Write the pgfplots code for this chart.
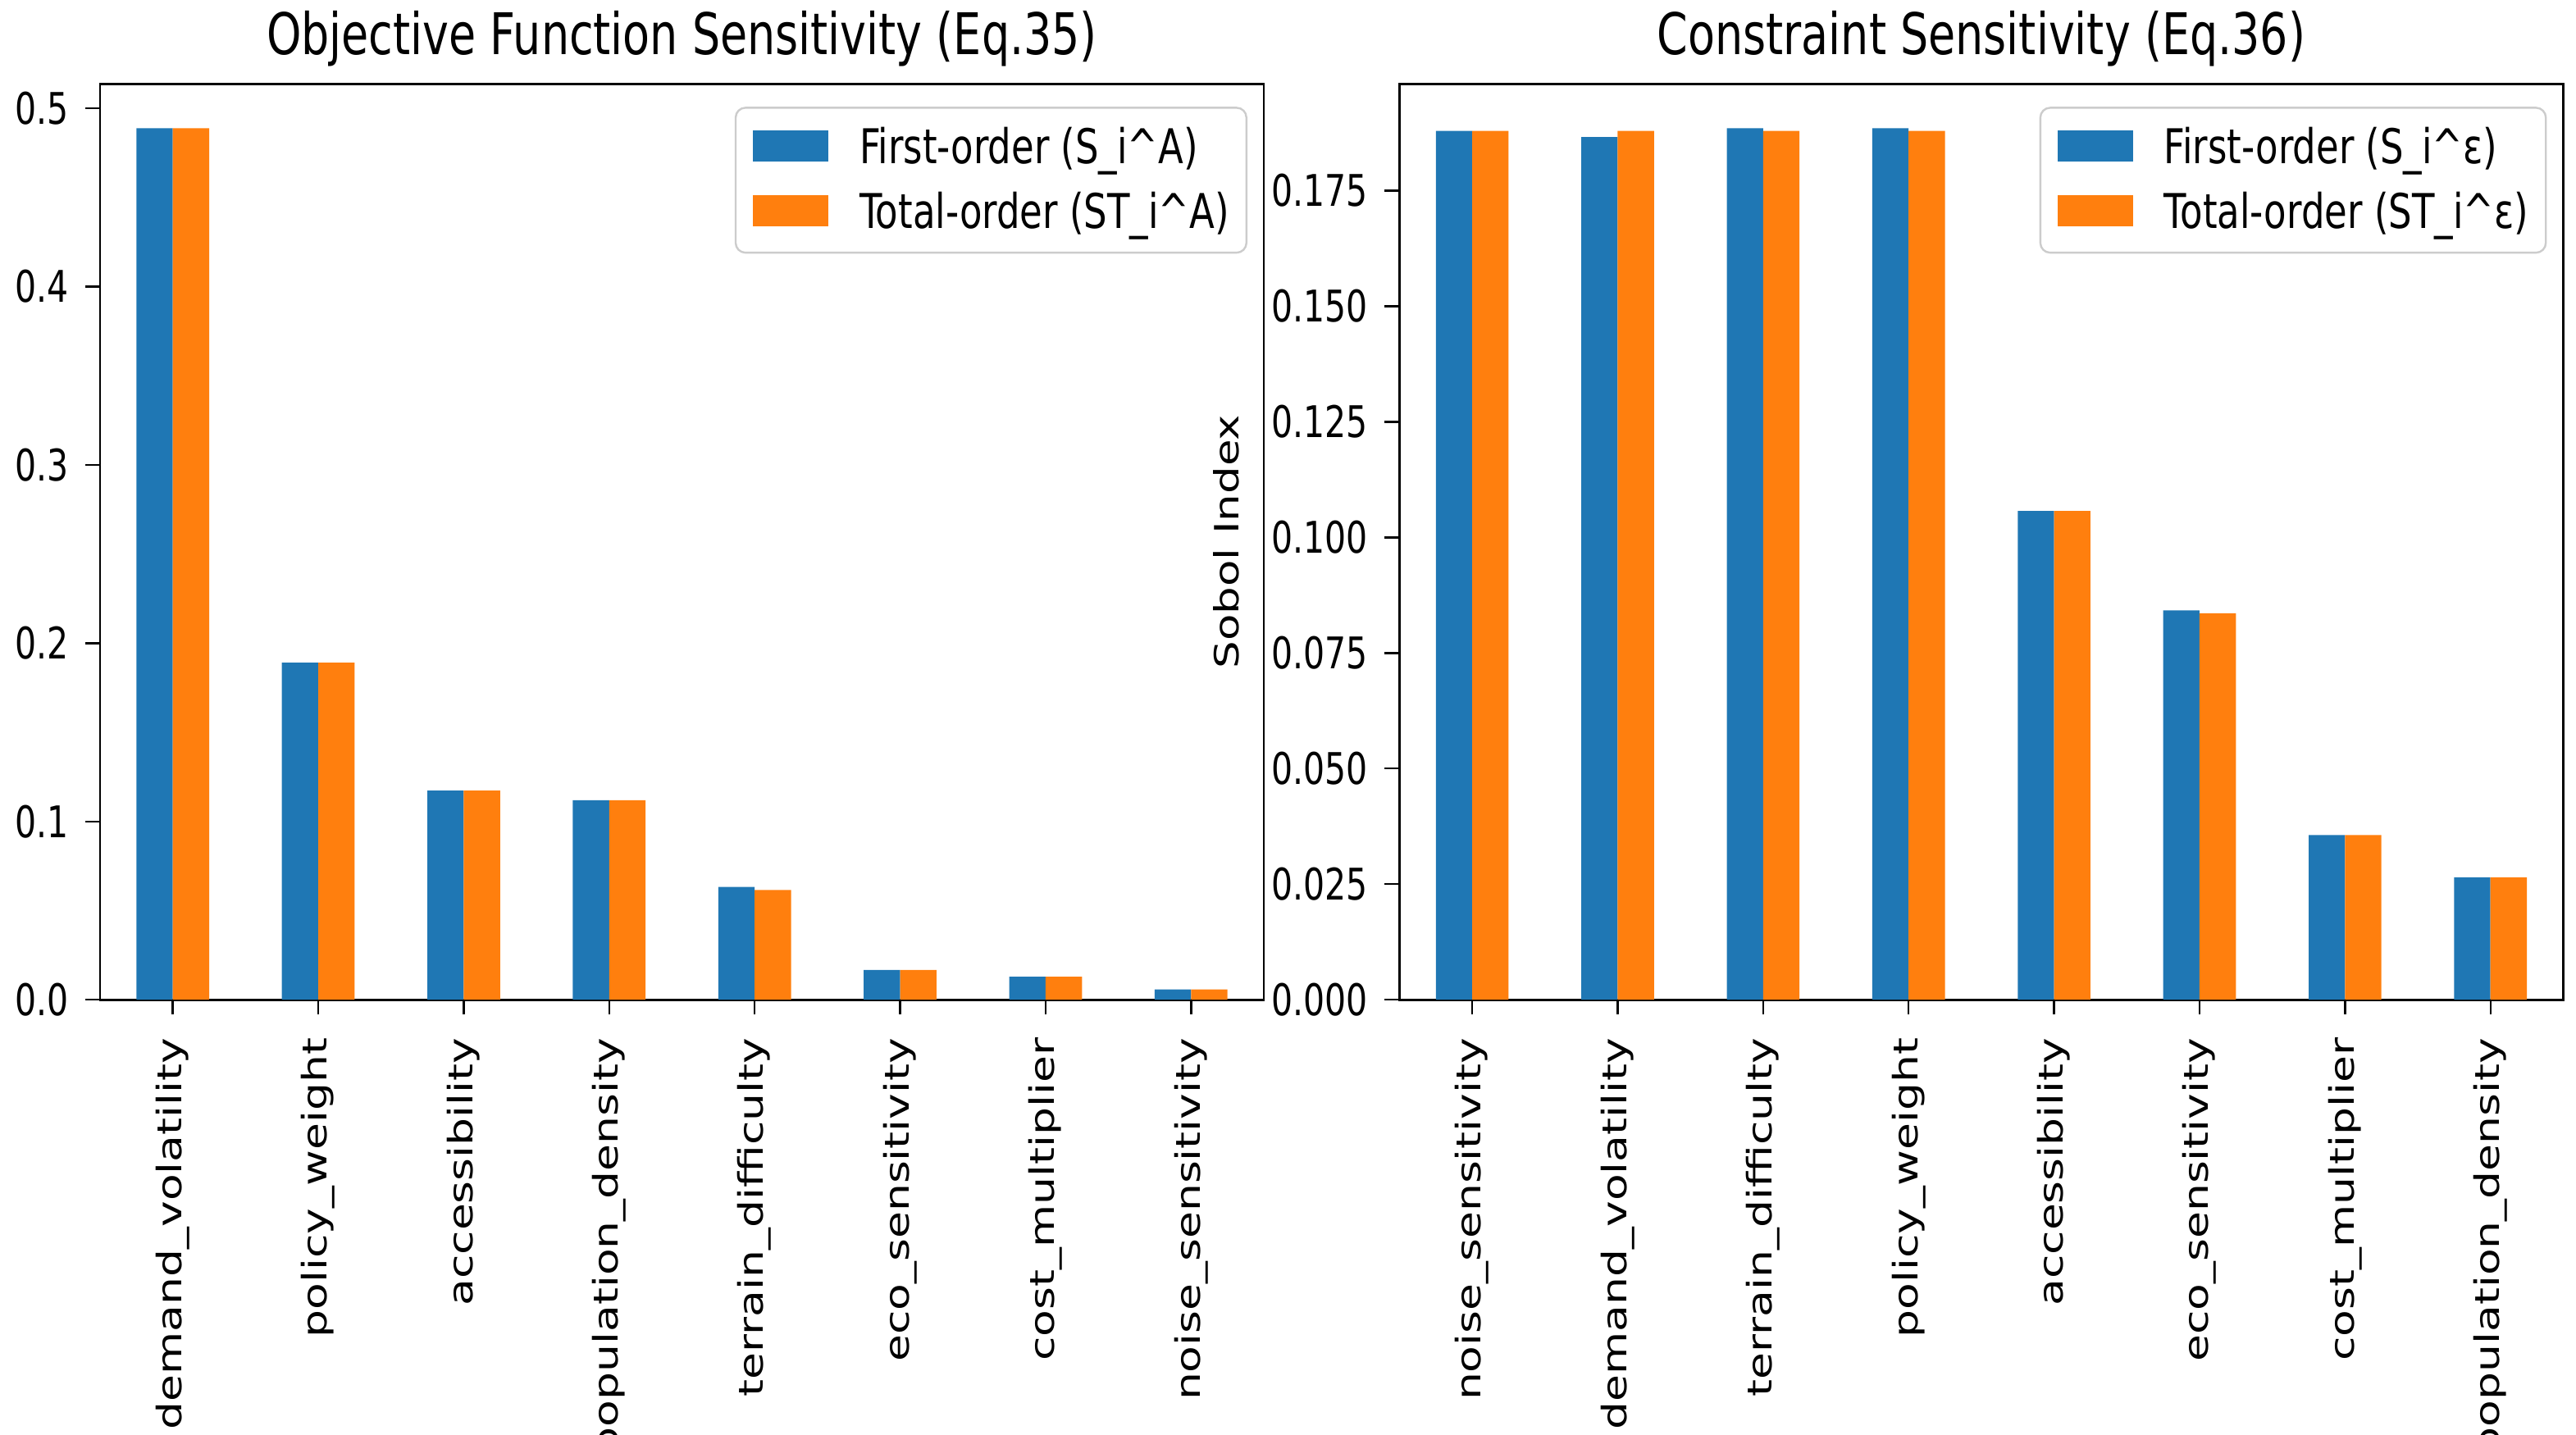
\documentclass[border=0pt]{standalone}
\usepackage{fontspec}
\setmainfont{DejaVu Sans}[FakeStretch=0.77]
\newfontfamily\rotfont{DejaVu Sans}[FakeStretch=1.30]
\usepackage{pgfplots}
\pgfplotsset{compat=1.18}
\definecolor{mplblue}{HTML}{1F77B4}
\definecolor{mplorange}{HTML}{FF7F0E}
\pgfplotsset{
 sobol/.style={
  scale only axis, width=354.75pt, height=279.25pt, anchor=south west,
  xmin=-0.5, xmax=7.5, ymin=0,
  xtick={0,1,2,3,4,5,6,7}, tick align=outside, xtick pos=left, ytick pos=left,
  major tick length=4.5pt,
  scaled y ticks=false,
  axis line style={line width=0.7pt, black},
  major tick style={black, line width=0.6pt},
  /pgf/number format/assume math mode=true,
  xticklabel style={yshift=-7pt, rotate=90, anchor=east, inner sep=0pt, font=\rotfont\fontsize{10.3}{12}\selectfont},
  yticklabel style={xshift=-5pt, inner sep=0pt, font=\fontsize{13.3}{15}\selectfont},
  every axis title shift=0pt,
  title style={at={(0.5,1)}, anchor=base, yshift=9pt, font=\fontsize{17.5}{20}\selectfont},
  legend style={at={(rel axis cs:1,1)}, xshift=-5pt, yshift=-7pt, anchor=north east,
    draw=black!20, line width=0.6pt, rounded corners=3pt, fill=white,
    inner xsep=5.25pt, inner ysep=6pt, row sep=7pt,
    font=\fontsize{14.6}{16}\selectfont, nodes={inner sep=0pt},
    /tikz/every odd column/.style={column sep=9.5pt}},
  legend cell align=left,
 },
 barA/.style={ybar, fill=mplblue, draw=none, bar width=0.25, bar shift=-0.125,
   legend image code/.code={\fill[mplblue, sharp corners] (0pt,-4.15pt) rectangle (23pt,5.35pt);}},
 barB/.style={ybar, fill=mplorange, draw=none, bar width=0.25, bar shift=0.125,
   legend image code/.code={\fill[mplorange, sharp corners] (0pt,-4.15pt) rectangle (23pt,5.35pt);}},
}
\begin{document}
\begin{tikzpicture}
\path[use as bounding box] (0,0) rectangle (785.25pt,437.25pt);
\begin{axis}[sobol, at={(30.5pt,132.45pt)}, ymax=0.5137,
  ytick={0,0.1,0.2,0.3,0.4,0.5},
  yticklabel style={/pgf/number format/fixed, /pgf/number format/fixed zerofill, /pgf/number format/precision=1},
  xticklabels={demand\_volatility, policy\_weight, accessibility, population\_density, terrain\_difficulty, eco\_sensitivity, cost\_multiplier, noise\_sensitivity},
  title={Objective Function Sensitivity (Eq.35)}]
\addplot[barA] coordinates {(0,0.4888) (1,0.1891) (2,0.1173) (3,0.1119) (4,0.0633) (5,0.0167) (6,0.0129) (7,0.0058)};
\addplot[barB] coordinates {(0,0.4888) (1,0.1891) (2,0.1173) (3,0.1119) (4,0.0616) (5,0.0167) (6,0.0129) (7,0.0058)};
\legend{First-order (S\_i\textasciicircum A), Total-order (ST\_i\textasciicircum A)}
\end{axis}
\begin{axis}[sobol, at={(426.6pt,132.45pt)}, ymax=0.1981,
  ytick={0,0.025,0.05,0.075,0.1,0.125,0.15,0.175},
  yticklabel style={/pgf/number format/fixed, /pgf/number format/fixed zerofill, /pgf/number format/precision=3},
  xticklabels={noise\_sensitivity, demand\_volatility, terrain\_difficulty, policy\_weight, accessibility, eco\_sensitivity, cost\_multiplier, population\_density},
  ylabel={Sobol Index},
  ylabel style={at={(axis description cs:-0.149,0.5)}, anchor=center, font=\rotfont\fontsize{10.2}{12}\selectfont},
  title={Constraint Sensitivity (Eq.36)}]
\addplot[barA] coordinates {(0,0.1879) (1,0.1866) (2,0.1885) (3,0.1885) (4,0.1057) (5,0.0842) (6,0.0356) (7,0.0265)};
\addplot[barB] coordinates {(0,0.1879) (1,0.1879) (2,0.1879) (3,0.1879) (4,0.1057) (5,0.0836) (6,0.0356) (7,0.0265)};
\legend{First-order (S\_i\textasciicircum ε), Total-order (ST\_i\textasciicircum ε)}
\end{axis}
\end{tikzpicture}
\end{document}
